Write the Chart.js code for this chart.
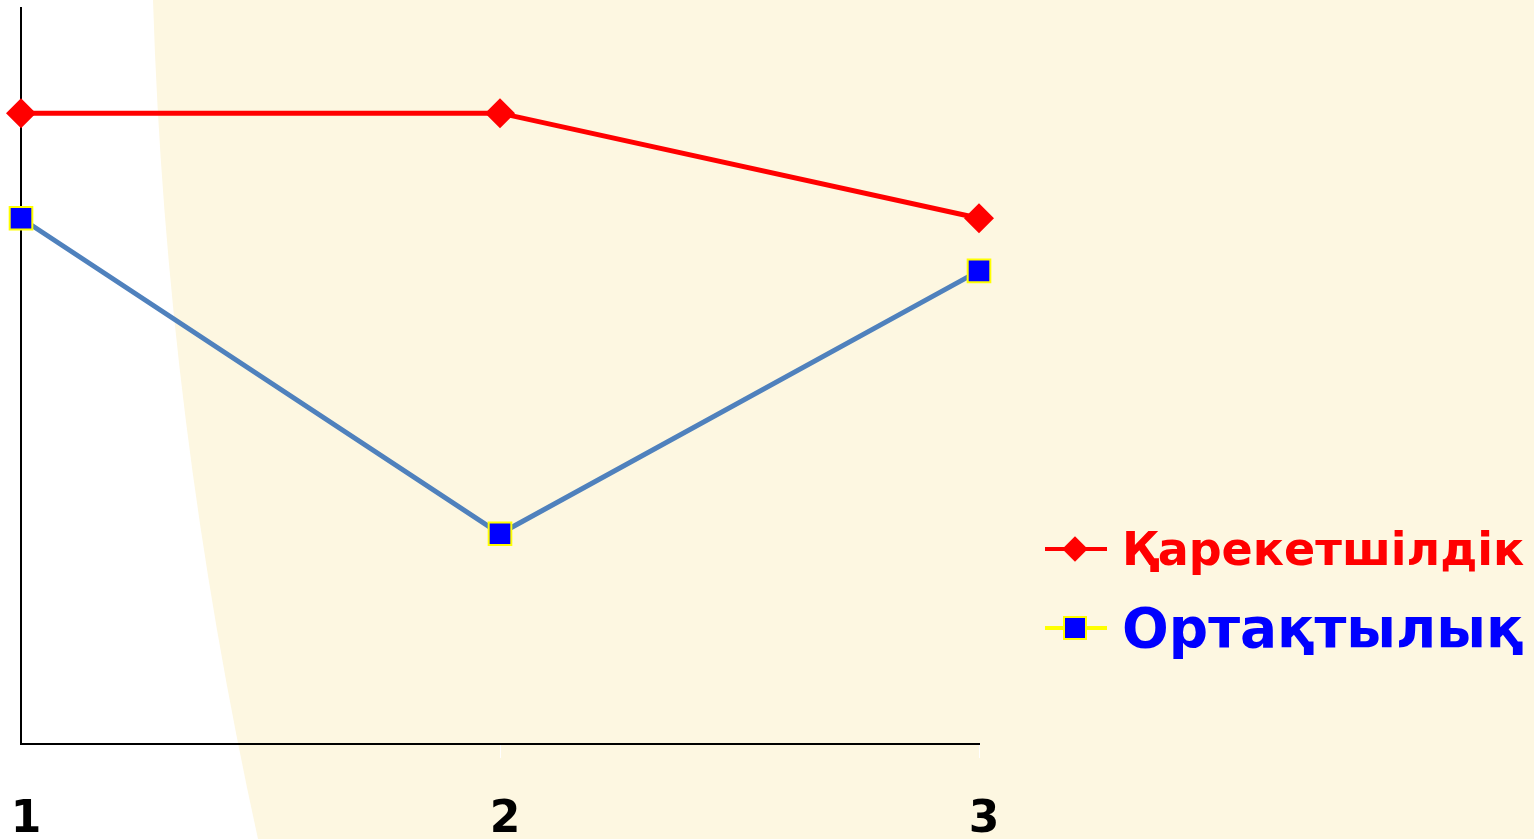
<!DOCTYPE html>
<html lang="kk">
  <head>
    <meta charset="UTF-8" />
    <title>Қарекетшілдік / Ортақтылық</title>
    <style>
      body {
        margin: 0;
        background: #ffffff;
        font-family: "DejaVu Sans", Verdana, sans-serif;
        overflow: hidden;
      }
      .wrap {
        position: relative;
        width: 1534px;
        height: 839px;
      }
      .legend {
        position: absolute;
        left: 1045px;
        top: 0;
      }
      .legend-item {
        position: absolute;
        left: 0;
        display: flex;
        align-items: center;
        height: 80px;
        white-space: nowrap;
        font-weight: bold;
      }
      .marker {
        position: relative;
        width: 62px;
        height: 80px;
        margin-right: 15px;
      }
      .marker .line {
        position: absolute;
        left: 0;
        top: 38px;
        width: 62px;
        height: 4px;
      }
      .marker .dot {
        position: absolute;
      }
    </style>
  </head>
  <body>
    <div class="wrap">
      <canvas id="chart"></canvas>
      <div class="legend" id="legend"></div>
    </div>
    <script src="https://cdn.jsdelivr.net/npm/chart.js"></script>
    <script>
      const categories = ["1", "2", "3"];
      const seriesNames = ["Қарекетшілдік", "Ортақтылық"];
      const activityValues = [6, 6, 5];
      const sharedValues = [5, 2, 4.5];
      const yMin = 0;
      const yMax = 7;
      const yStep = 1;

      // cream backdrop with the white curved band on the left
      const backdrop = {
        id: "backdrop",
        beforeDraw(chart) {
          const c = chart.ctx;
          c.save();
          c.fillStyle = "#fdf7e1";
          c.fillRect(0, 0, chart.width, chart.height);
          c.fillStyle = "#ffffff";
          c.beginPath();
          c.moveTo(0, 0);
          c.lineTo(153, 0);
          c.quadraticCurveTo(166, 420, 258, chart.height);
          c.lineTo(0, chart.height);
          c.closePath();
          c.fill();
          c.restore();
        },
      };

      const chart = new Chart(document.getElementById("chart"), {
        type: "line",
        data: {
          labels: categories,
          datasets: [
            {
              label: seriesNames[0],
              data: activityValues,
              borderColor: "#ff0000",
              borderWidth: 5,
              pointStyle: "rectRot",
              pointRadius: 15,
              pointBackgroundColor: "#ff0000",
              pointBorderColor: "#ff0000",
              pointBorderWidth: 0,
              tension: 0,
            },
            {
              label: seriesNames[1],
              data: sharedValues,
              borderColor: "#4f81bd",
              borderWidth: 5,
              pointStyle: "rect",
              pointRadius: 16,
              pointBackgroundColor: "#0000ff",
              pointBorderColor: "#ffff00",
              pointBorderWidth: 2,
              tension: 0,
            },
          ],
        },
        options: {
          responsive: true,
          maintainAspectRatio: false,
          animation: false,
          layout: {
            autoPadding: false,
            padding: { left: 16, right: 555, top: 8, bottom: 0 },
          },
          plugins: {
            legend: { display: false },
            tooltip: { enabled: false },
          },
          scales: {
            x: {
              offset: false,
              grid: {
                drawOnChartArea: false,
                color: "#ffffff",
                tickLength: 14,
              },
              border: { color: "#000000", width: 2 },
              ticks: {
                color: "#000000",
                padding: 41,
                labelOffset: 5,
                maxRotation: 0,
                font: {
                  family: "DejaVu Sans",
                  size: 44,
                  weight: "bold",
                  lineHeight: 1,
                },
              },
              afterFit(scale) {
                scale.height = 95;
                scale.paddingLeft = 0;
                scale.paddingRight = 0;
              },
            },
            y: {
              min: yMin,
              max: yMax,
              ticks: { stepSize: yStep, display: false },
              grid: {
                drawOnChartArea: false,
                color: "#ffffff",
                tickLength: 5,
              },
              border: { color: "#000000", width: 2 },
              afterFit(scale) {
                scale.width = 5;
                scale.paddingTop = 0;
                scale.paddingBottom = 0;
              },
            },
          },
        },
        plugins: [backdrop],
      });

      // legend built as real text
      const legendStyles = [
        { color: "#ff0000", size: 46, center: 549, line: "#ff0000", dot: "diamond" },
        { color: "#0000ff", size: 55, center: 628, line: "#ffff00", dot: "square" },
      ];
      const legend = document.getElementById("legend");
      seriesNames.forEach((name, i) => {
        const s = legendStyles[i];
        const item = document.createElement("div");
        item.className = "legend-item";
        item.style.top = s.center - 40 + "px";
        const marker = document.createElement("div");
        marker.className = "marker";
        const line = document.createElement("div");
        line.className = "line";
        line.style.background = s.line;
        const dot = document.createElement("div");
        dot.className = "dot";
        if (s.dot === "diamond") {
          Object.assign(dot.style, {
            left: "21px",
            top: "31px",
            width: "18px",
            height: "18px",
            background: "#ff0000",
            transform: "rotate(45deg)",
          });
        } else {
          Object.assign(dot.style, {
            left: "18px",
            top: "28px",
            width: "20px",
            height: "20px",
            background: "#0000ff",
            border: "2px solid #ffff00",
          });
        }
        marker.appendChild(line);
        marker.appendChild(dot);
        const text = document.createElement("span");
        text.textContent = name;
        text.style.color = s.color;
        text.style.fontSize = s.size + "px";
        item.appendChild(marker);
        item.appendChild(text);
        legend.appendChild(item);
      });
    </script>
  </body>
</html>
